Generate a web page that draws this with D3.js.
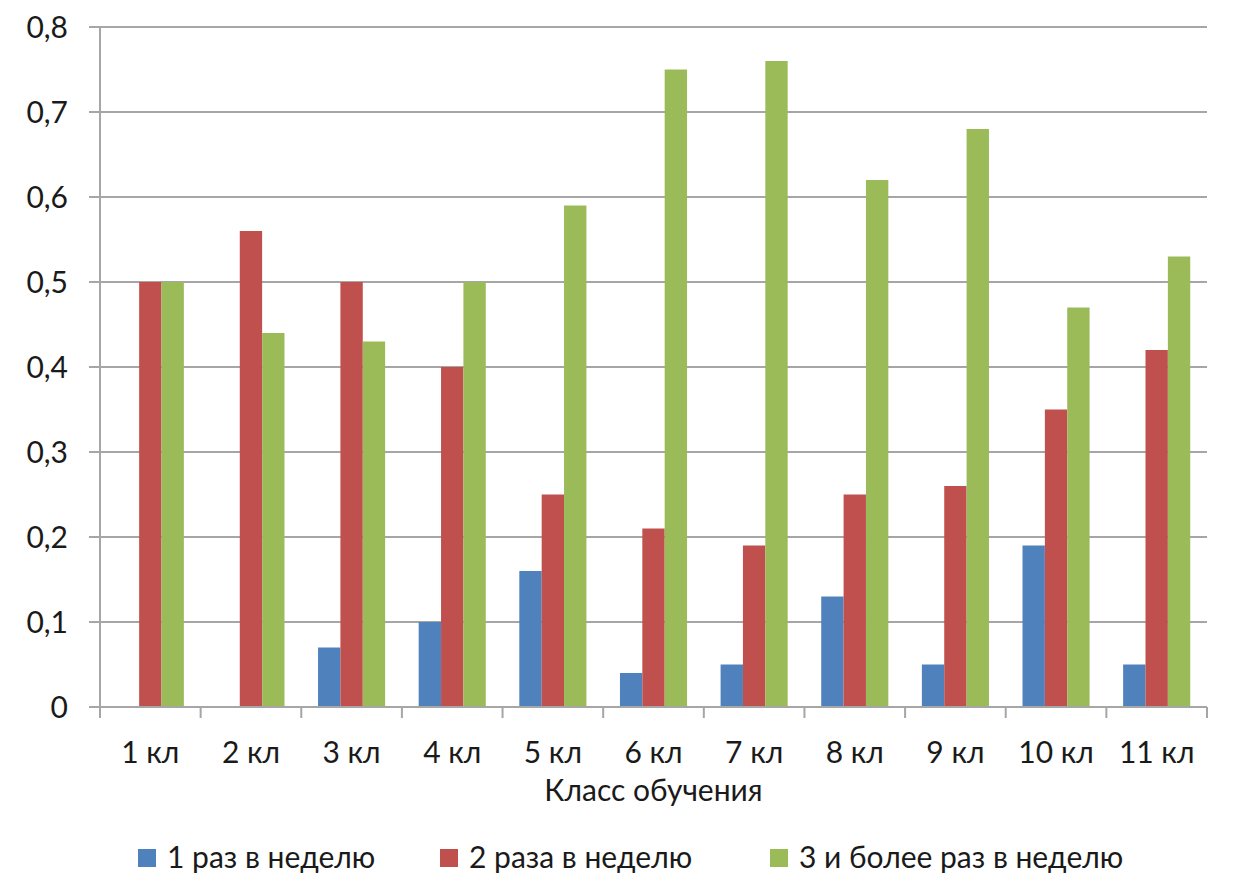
<!DOCTYPE html>
<html><head><meta charset="utf-8">
<script src="https://cdn.jsdelivr.net/npm/d3@7"></script>
<style>body{margin:0;background:#fff}svg{display:block}text{font-family:Lato,"Open Sans",sans-serif;fill:#1a1a1a}</style>
</head><body>
<svg id="c" width="1235" height="882"></svg>
<script>
const categories = ["1 кл","2 кл","3 кл","4 кл","5 кл","6 кл","7 кл","8 кл","9 кл","10 кл","11 кл"];
const seriesNames = ["1 раз в неделю","2 раза в неделю","3 и более раз в неделю"];
const once = [0,0,0.07,0.10,0.16,0.04,0.05,0.13,0.05,0.19,0.05];
const twice = [0.50,0.56,0.50,0.40,0.25,0.21,0.19,0.25,0.26,0.35,0.42];
const thrice = [0.50,0.44,0.43,0.50,0.59,0.75,0.76,0.62,0.68,0.47,0.53];
const yTicks = [0,0.1,0.2,0.3,0.4,0.5,0.6,0.7,0.8];
const colors = ["#4F81BD","#C0504D","#9BBB59"];
const axisTitle = "Класс обучения";

const series = [once, twice, thrice];
const svg = d3.select("#c");
const L=100, R=1207, T=27, B=707;
const FS = 30;
const x0 = d3.scaleBand().domain(categories).range([L,R]).padding(0);
const x1 = d3.scaleBand().domain(d3.range(3)).range([0,x0.bandwidth()]).paddingInner(0).paddingOuter(0.75);
const y = d3.scaleLinear().domain([0,0.8]).range([B,T]);
const fmt = v => d3.format(".1f")(v).replace(".",",");
const grid = "#a6a6a6";

svg.append("g").selectAll("line").data(yTicks).join("line")
  .attr("x1",L-11).attr("x2",R).attr("y1",d=>y(d)).attr("y2",d=>y(d))
  .attr("stroke",grid).attr("stroke-width",2);
svg.append("g").selectAll("text").data(yTicks).join("text")
  .attr("x",68).attr("y",d=>y(d)).attr("dy","0.36em").attr("text-anchor","end")
  .attr("font-size",FS).text(d=>d===0?"0":fmt(d));
svg.append("line").attr("x1",L).attr("x2",L).attr("y1",T).attr("y2",B+11).attr("stroke",grid).attr("stroke-width",2);

const g = svg.append("g");
categories.forEach((c,i)=>{
  series.forEach((s,k)=>{
    if (s[i] <= 0) return;
    g.append("rect").attr("x",x0(c)+x1(k)).attr("width",x1.bandwidth())
      .attr("y",y(s[i])).attr("height",y(0)-y(s[i])).attr("fill",colors[k]);
  });
});

svg.append("line").attr("x1",L-11).attr("x2",R).attr("y1",B).attr("y2",B).attr("stroke",grid).attr("stroke-width",2);
const bounds = categories.map(c=>x0(c)).concat([R]);
svg.append("g").selectAll("line").data(bounds).join("line")
  .attr("x1",d=>d).attr("x2",d=>d).attr("y1",B).attr("y2",B+11).attr("stroke",grid).attr("stroke-width",2);
svg.append("g").selectAll("text").data(categories).join("text")
  .attr("x",d=>x0(d)+x0.bandwidth()/2).attr("y",763).attr("text-anchor","middle")
  .attr("font-size",FS).text(d=>d);
svg.append("text").attr("x",(L+R)/2).attr("y",801).attr("text-anchor","middle").attr("font-size",FS).text(axisTitle);

const legX = [138,440,770];
const lg = svg.append("g");
seriesNames.forEach((n,k)=>{
  lg.append("rect").attr("x",legX[k]).attr("y",849).attr("width",18).attr("height",18).attr("fill",colors[k]);
  lg.append("text").attr("x",legX[k]+29).attr("y",868).attr("font-size",FS).text(n);
});
</script>
</body></html>
